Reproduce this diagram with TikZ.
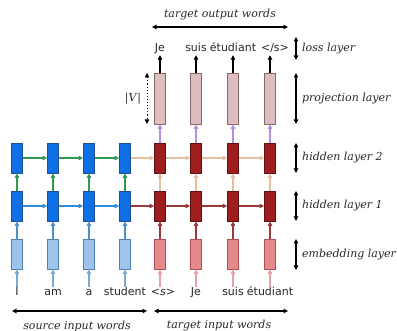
\documentclass[tikz,border=0pt]{standalone}
\usepackage{fontspec}
\setmainfont{DejaVu Sans}
\newfontfamily\lblfont{DejaVu Serif}
\usetikzlibrary{arrows.meta}
\definecolor{hblue}{RGB}{14,112,228}
\definecolor{hblueD}{RGB}{30,80,150}
\definecolor{eblue}{RGB}{156,196,236}
\definecolor{eblueD}{RGB}{80,128,176}
\definecolor{hred}{RGB}{158,30,32}
\definecolor{hredD}{RGB}{100,16,16}
\definecolor{ered}{RGB}{229,138,140}
\definecolor{eredD}{RGB}{176,80,80}
\definecolor{pfill}{RGB}{220,190,192}
\definecolor{pdraw}{RGB}{138,104,104}
\definecolor{agreen}{RGB}{46,154,80}
\definecolor{ablue}{RGB}{45,143,220}
\definecolor{asteel}{RGB}{80,143,200}
\definecolor{asteelL}{RGB}{122,170,208}
\definecolor{apeach}{RGB}{232,190,160}
\definecolor{adred}{RGB}{154,58,58}
\definecolor{apink}{RGB}{232,160,168}
\definecolor{apurple}{RGB}{176,144,224}
\definecolor{txt}{RGB}{40,40,40}
\begin{document}
\begin{tikzpicture}[x=1pt,y=-1pt,
  box/.style={draw, minimum width=11pt, minimum height=30pt, inner sep=0pt, line width=0.7pt},
  srch/.style={box, fill=hblue, draw=hblueD},
  srce/.style={box, fill=eblue, draw=eblueD},
  tgth/.style={box, fill=hred, draw=hredD},
  tgte/.style={box, fill=ered, draw=eredD},
  proj/.style={box, fill=pfill, draw=pdraw, minimum height=51pt},
  word/.style={font=\fontsize{11}{13}\selectfont, text=txt, text height=8pt, text depth=2pt, inner sep=1pt},
  lbl/.style={font=\lblfont\itshape\fontsize{11}{13}\selectfont, text=txt, inner sep=0pt},
  arr/.style={-{Triangle[length=4.5pt,width=4.5pt]}, line width=1.1pt},
  dbl/.style={{Triangle[length=4.5pt,width=4.5pt]}-{Triangle[length=4.5pt,width=4.5pt]}, line width=1.1pt, black}
]
\useasboundingbox[fill=white] (0,0) rectangle (397,331);

% source columns
\foreach \i/\x/\w in {1/17/I, 2/53/am, 3/89/a, 4/125/student}{
  \node[srce] (e\i) at (\x,254) {};
  \node[srch] (a\i) at (\x,206) {};
  \node[srch] (b\i) at (\x,158) {};
  \node[word] (w\i) at (\x,293) {\w};
  \draw[arr, asteelL] (w\i.north) -- (e\i.south);
  \draw[arr, asteel] (e\i.north) -- (a\i.south);
  \draw[arr, agreen] (a\i.north) -- (b\i.south);
}
% target columns
\foreach \i/\x in {5/160, 6/196, 7/233, 8/270}{
  \node[tgte] (e\i) at (\x,254) {};
  \node[tgth] (a\i) at (\x,206) {};
  \node[tgth] (b\i) at (\x,158) {};
  \node[proj] (p\i) at (\x,98.5) {};
}
\node[word] (w5) at (163,293) {<\textit{s}>};
\node[word] (w6) at (196,293) {Je};
\node[word] (w7) at (233,293) {suis};
\node[word] (w8) at (270,293) {étudiant};
\node[word] (o5) at (160,49) {Je};
\node[word] (o6) at (196,49) {suis};
\node[word] (o7) at (233,49) {étudiant};
\node[word] (o8) at (275,49) {</s>};
\foreach \i in {5,6,7,8}{
  \draw[arr, apink] (w\i.north -| e\i) -- (e\i.south);
  \draw[arr, adred] (e\i.north) -- (a\i.south);
  \draw[arr, apeach] (a\i.north) -- (b\i.south);
  \draw[arr, apurple] (b\i.north) -- (p\i.south);
  \draw[arr, black] (p\i.north) -- (o\i.south -| p\i);
}
% horizontal recurrences
\foreach \i/\j in {1/2, 2/3, 3/4}{
  \draw[arr, agreen] (b\i.east) -- (b\j.west);
  \draw[arr, ablue] (a\i.east) -- (a\j.west);
}
\foreach \i/\j in {4/5, 5/6, 6/7, 7/8}{
  \draw[arr, apeach] (b\i.east) -- (b\j.west);
  \draw[arr, adred] (a\i.east) -- (a\j.west);
}

% |V| dotted arrow
\coordinate (vt) at (147,73);
\coordinate (vb) at (147,124);
\draw[dbl, dotted, line width=0.9pt] (vt) -- (vb);
\node[font=\lblfont\fontsize{11}{13}\selectfont, text=txt] (vl) at (133,99) {|\textit{V}|};

% top arrow
\coordinate (tl) at (152,27);
\coordinate (tr) at (288,27);
\draw[dbl] (tl) -- (tr);
\node[lbl] (tlab) at (220,15) {target output words};

% bottom arrows
\coordinate (sl) at (12,311);
\coordinate (sr) at (147,311);
\coordinate (ql) at (154,311);
\coordinate (qr) at (288,311);
\draw[dbl] (sl) -- (sr);
\draw[dbl] (ql) -- (qr);
\node[lbl] (slab) at (77,326) {source input words};
\node[lbl] (qlab) at (219,326) {target input words};

% right-side layer annotations
\foreach \n/\ya/\yb/\t in {l/37/60/loss layer, p/73/124/projection layer, h/143/173/hidden layer 2, g/191/221/hidden layer 1, m/239/270/embedding layer}{
  \coordinate (\n t) at (296,\ya);
  \coordinate (\n b) at (296,\yb);
  \draw[dbl] (\n t) -- (\n b);
  \node[lbl, anchor=west] (\n lab) at (302,{(\ya+\yb)/2}) {\t};
}
\end{tikzpicture}
\end{document}
